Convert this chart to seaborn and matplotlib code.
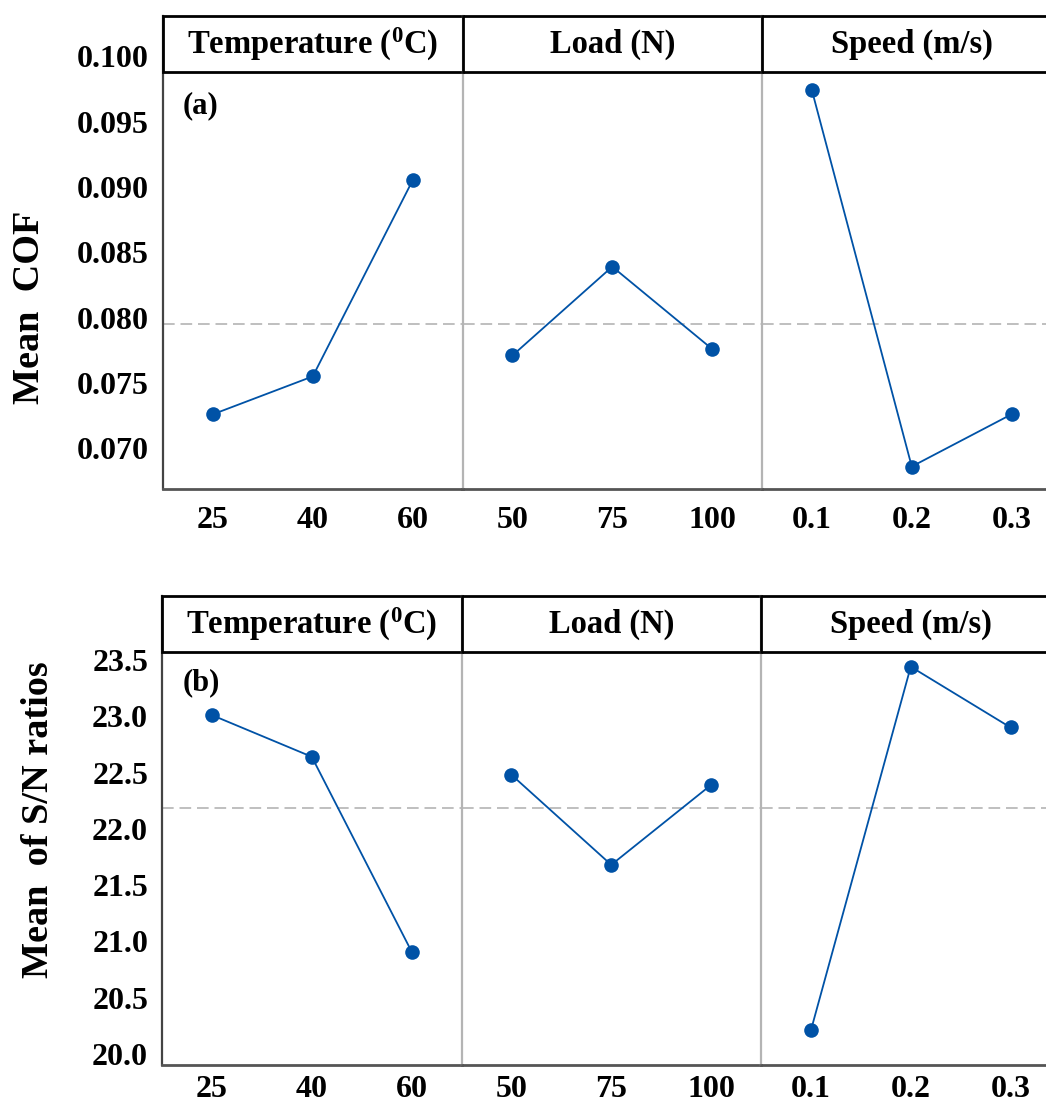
import numpy as np
import pandas as pd
import matplotlib
matplotlib.use("Agg")
import matplotlib.pyplot as plt
import seaborn as sns
from matplotlib.patches import Rectangle

# ---------------- data ----------------
factor_titles = ["Temperature ($^{0}$C)", "Load (N)", "Speed (m/s)"]
temp_levels = ["25", "40", "60"]
load_levels = ["50", "75", "100"]
speed_levels = ["0.1", "0.2", "0.3"]

cof_temp = [0.0726, 0.0755, 0.0905]
cof_load = [0.0771, 0.0839, 0.0776]
cof_speed = [0.0974, 0.0686, 0.0726]

sn_temp = [23.01, 22.64, 20.91]
sn_load = [22.48, 21.68, 22.39]
sn_speed = [20.21, 23.44, 22.90]

cof_ticks = [0.070, 0.075, 0.080, 0.085, 0.090, 0.095, 0.100]
sn_ticks = [20.0, 20.5, 21.0, 21.5, 22.0, 22.5, 23.0, 23.5]

# ---------------- style ----------------
sns.set_theme(style="white")
plt.rcParams["font.family"] = ["Liberation Serif", "DejaVu Serif"]
plt.rcParams["font.weight"] = "bold"
plt.rcParams["text.color"] = "black"
plt.rcParams["axes.labelcolor"] = "black"
plt.rcParams["xtick.color"] = "black"
plt.rcParams["ytick.color"] = "black"
plt.rcParams["mathtext.fontset"] = "custom"
plt.rcParams["mathtext.rm"] = "Liberation Serif:bold"
plt.rcParams["mathtext.it"] = "Liberation Serif:bold"
plt.rcParams["mathtext.bf"] = "Liberation Serif:bold"

BLUE = "#0052A6"
W, H = 1046, 1108
fig = plt.figure(figsize=(W / 100, H / 100), dpi=100)

panel_lefts = [163, 462.5, 762]
panel_w = 299.5


def draw_row(top_px, header_px, bottom_px, ylim, series, levels, yticks, yfmt,
             ylabel, ylabel_xy, letter, letter_xy, xpad, left_shift=0):
    axes = []
    hb = (bottom_px - header_px) / (bottom_px - top_px)
    grand = np.mean([np.mean(s) for s in series])
    for i, (vals, labs) in enumerate(zip(series, levels)):
        lp = panel_lefts[i] + left_shift
        rect = [lp / W, 1 - bottom_px / H, panel_w / W, (bottom_px - top_px) / H]
        ax = fig.add_axes(rect)
        df = pd.DataFrame({"pos": np.arange(len(vals)), "val": vals})
        ax.axhline(grand, color="#b4b4b4", lw=1.2, ls=(0, (7, 3.5)), zorder=1)
        sns.lineplot(data=df, x="pos", y="val", ax=ax, color=BLUE, lw=1.3,
                     marker="o", markersize=10.5, markeredgewidth=0, zorder=3)
        ax.set_xlim(-0.5, 2.5)
        ax.set_ylim(*ylim)
        ax.set_xlabel("")
        ax.set_ylabel("")
        ax.set_xticks(np.arange(len(labs)))
        ax.set_xticklabels(labs, fontsize=23, fontweight="bold")
        ax.tick_params(axis="x", length=0, pad=xpad, colors="black")
        ax.tick_params(axis="y", length=0, pad=10, colors="black")
        for s in ["top", "right"]:
            ax.spines[s].set_visible(False)
        ax.spines["bottom"].set_color("#555555")
        ax.spines["bottom"].set_linewidth(2)
        if i == 0:
            ax.spines["left"].set_color("#444444")
            ax.spines["left"].set_linewidth(1.6)
            ax.set_yticks(yticks)
            ax.set_yticklabels([yfmt.format(t) for t in yticks], fontsize=23,
                               fontweight="bold")
            ax.set_ylabel(ylabel, fontsize=27.5, fontweight="bold", va="center",
                          ha="center")
            ax.yaxis.set_label_coords((ylabel_xy[0] - lp) / panel_w,
                                      (bottom_px - ylabel_xy[1]) / (bottom_px - top_px))
            ax.text((letter_xy[0] - lp) / panel_w,
                    (bottom_px - letter_xy[1]) / (bottom_px - top_px),
                    letter, transform=ax.transAxes, fontsize=22,
                    fontweight="bold", ha="left", va="top")
        else:
            ax.spines["left"].set_color("#b4b4b4")
            ax.spines["left"].set_linewidth(1.6)
            ax.set_yticks(yticks)
            ax.set_yticklabels([])
        ax.set_facecolor("none")
        # header box
        ax.add_patch(Rectangle((0, hb), 1, 1 - hb, transform=ax.transAxes,
                               fill=True, facecolor="white", edgecolor="black",
                               lw=2, clip_on=False, zorder=5))
        ax.text(0.5, hb + (1 - hb) / 2, factor_titles[i], transform=ax.transAxes,
                ha="center", va="center", fontsize=23.5, fontweight="bold",
                zorder=6)
        axes.append(ax)
    return axes


# Row (a): Mean COF
draw_row(16, 72, 489, (0.06688, 0.10309),
         [cof_temp, cof_load, cof_speed],
         [temp_levels, load_levels, speed_levels],
         cof_ticks, "{:.3f}", "Mean  COF", (30, 307), "(a)", (183, 91), xpad=12)

# Row (b): Mean of S/N ratios
draw_row(596, 652, 1065, (19.902, 24.068),
         [sn_temp, sn_load, sn_speed],
         [temp_levels, load_levels, speed_levels],
         sn_ticks, "{:.1f}", "Mean  of S/N ratios", (39, 820), "(b)", (183, 668),
         xpad=7, left_shift=-1)

fig.savefig("out.png", dpi=100)
